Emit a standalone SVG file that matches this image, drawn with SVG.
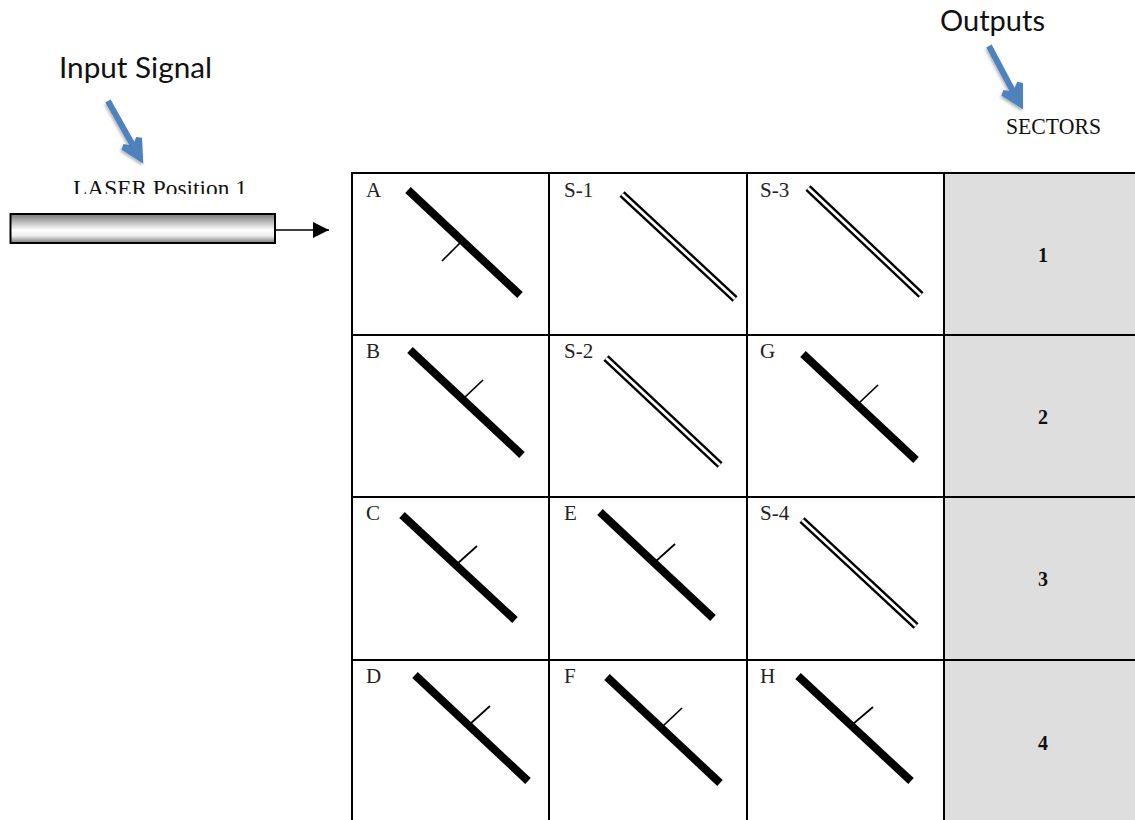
<svg xmlns="http://www.w3.org/2000/svg" width="1135" height="820" viewBox="0 0 1135 820">
<style>
.cell{fill:#fff;stroke:#000;stroke-width:2}
.sector{fill:#dedede;stroke:#000;stroke-width:2}
.thick{stroke:#000;stroke-width:8;fill:none}
.tick{stroke:#000;stroke-width:1.700;fill:none}
.dbl1{stroke:#000;stroke-width:7.500;fill:none}
.dbl2{stroke:#fff;stroke-width:2.800;fill:none}
.lbl{font-family:"Liberation Serif",serif;font-size:21px;fill:#222}
.num{font-family:"Liberation Serif",serif;font-size:20px;font-weight:bold;fill:#111;text-anchor:middle}
.cal{font-family:Lato,"Open Sans",sans-serif;font-size:28px;fill:#111}
.cam{font-family:"Liberation Serif",serif;font-size:23px;fill:#111}
.blue{stroke:#4f81bd;stroke-width:6;fill:#4f81bd;filter:url(#shadow)}
</style>
<defs>
<linearGradient id="bar" x1="0" y1="0" x2="0" y2="1">
<stop offset="0" stop-color="#777"/><stop offset="0.55" stop-color="#fff"/><stop offset="0.75" stop-color="#eee"/><stop offset="1" stop-color="#777"/>
</linearGradient>
<marker id="head" markerUnits="userSpaceOnUse" markerWidth="17" markerHeight="16" refX="16" refY="8" orient="auto"><path d="M0 0L16 8L0 16Z" fill="#000"/></marker>
<clipPath id="laserclip"><rect x="60" y="170" width="200" height="24"/></clipPath>
<filter id="shadow" x="-30%" y="-30%" width="160%" height="160%"><feDropShadow dx="-1" dy="2" stdDeviation="1.500" flood-color="#000" flood-opacity="0.3"/></filter>
</defs>
<g id="input-label">
<text class="cal" x="59" y="78" textLength="153" lengthAdjust="spacingAndGlyphs">Input Signal</text>
<path class="blue" d="M108 101L135 149L123 147L140 158L139 138L135 149Z"/>
</g>
<g id="outputs-label">
<text class="cal" x="940" y="31" textLength="105" lengthAdjust="spacingAndGlyphs">Outputs</text>
<path class="blue" d="M989 46L1015 95L1003 93L1020 104L1020 83L1015 95Z"/>
</g>
<text class="cam" x="1006" y="134" textLength="95" lengthAdjust="spacingAndGlyphs">SECTORS</text>
<g id="laser">
<text class="cam" x="73" y="196" clip-path="url(#laserclip)" textLength="174" lengthAdjust="spacingAndGlyphs">LASER Position 1</text>
<rect x="10.500" y="214" width="264.500" height="29" fill="url(#bar)" stroke="#000" stroke-width="2"/>
</g>
<g id="connectors">
<line x1="275" y1="230" x2="329" y2="230" stroke="#000" stroke-width="1.500" marker-end="url(#head)"/>
</g>
<g id="cell-a"><rect class="cell" x="352" y="173" width="197" height="162"/><text class="lbl" x="366" y="197">A</text><path class="thick" d="M408 190L520 295"/><path class="tick" d="M460 243L442 261"/></g>
<g id="cell-s1"><rect class="cell" x="549" y="173" width="198" height="162"/><text class="lbl" x="564" y="197">S-1</text><path class="dbl1" d="M622 194L735 299"/><path class="dbl2" d="M622 194L735 299"/></g>
<g id="cell-s3"><rect class="cell" x="747" y="173" width="197" height="162"/><text class="lbl" x="760" y="197">S-3</text><path class="dbl1" d="M808 188L921 295"/><path class="dbl2" d="M808 188L921 295"/></g>
<g id="sector-1"><rect class="sector" x="944" y="173" width="195" height="162"/><text class="num" x="1043" y="262">1</text></g>
<g id="cell-b"><rect class="cell" x="352" y="335" width="197" height="162"/><text class="lbl" x="366" y="358">B</text><path class="thick" d="M410 350L522 455"/><path class="tick" d="M464 398L483 380"/></g>
<g id="cell-s2"><rect class="cell" x="549" y="335" width="198" height="162"/><text class="lbl" x="564" y="358">S-2</text><path class="dbl1" d="M606 358L720 465"/><path class="dbl2" d="M606 358L720 465"/></g>
<g id="cell-g"><rect class="cell" x="747" y="335" width="197" height="162"/><text class="lbl" x="760" y="358">G</text><path class="thick" d="M803 354L916 460"/><path class="tick" d="M859 403L878 385"/></g>
<g id="sector-2"><rect class="sector" x="944" y="335" width="195" height="162"/><text class="num" x="1043" y="424">2</text></g>
<g id="cell-c"><rect class="cell" x="352" y="497" width="197" height="163"/><text class="lbl" x="366" y="520">C</text><path class="thick" d="M402 515L515 620"/><path class="tick" d="M457 564L477 546"/></g>
<g id="cell-e"><rect class="cell" x="549" y="497" width="198" height="163"/><text class="lbl" x="564" y="520">E</text><path class="thick" d="M600 512L713 618"/><path class="tick" d="M655 562L675 544"/></g>
<g id="cell-s4"><rect class="cell" x="747" y="497" width="197" height="163"/><text class="lbl" x="760" y="520">S-4</text><path class="dbl1" d="M802 520L916 626"/><path class="dbl2" d="M802 520L916 626"/></g>
<g id="sector-3"><rect class="sector" x="944" y="497" width="195" height="163"/><text class="num" x="1043" y="586">3</text></g>
<g id="cell-d"><rect class="cell" x="352" y="660" width="197" height="170"/><text class="lbl" x="366" y="683">D</text><path class="thick" d="M415 675L528 781"/><path class="tick" d="M470 724L490 706"/></g>
<g id="cell-f"><rect class="cell" x="549" y="660" width="198" height="170"/><text class="lbl" x="564" y="683">F</text><path class="thick" d="M607 677L720 783"/><path class="tick" d="M663 726L682 708"/></g>
<g id="cell-h"><rect class="cell" x="747" y="660" width="197" height="170"/><text class="lbl" x="760" y="683">H</text><path class="thick" d="M798 676L911 781"/><path class="tick" d="M853 724L873 707"/></g>
<g id="sector-4"><rect class="sector" x="944" y="660" width="195" height="170"/><text class="num" x="1043" y="750">4</text></g>
</svg>
